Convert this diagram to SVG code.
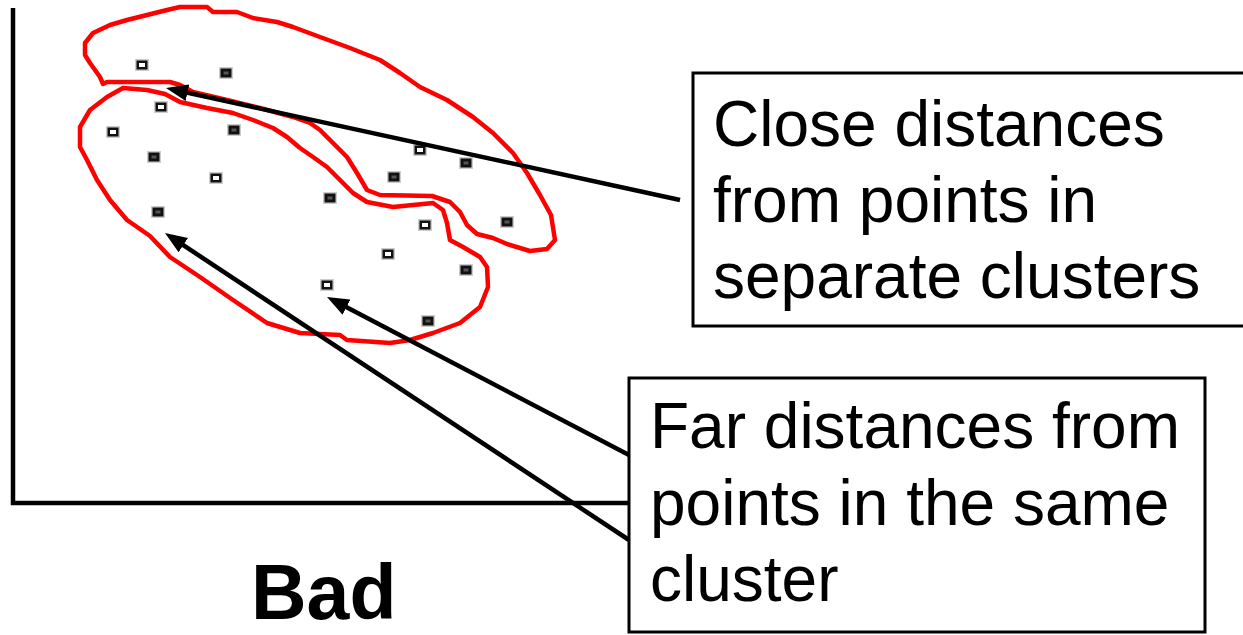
<svg xmlns="http://www.w3.org/2000/svg" width="1243" height="635" viewBox="0 0 1243 635">
<style>
.axis{stroke:#000;stroke-width:4.5;fill:none}
.blob{fill:none;stroke:#ff0000;stroke-width:4.5;stroke-linejoin:round}
.box{fill:#fff;stroke:#000;stroke-width:3}
.lbl{font-family:"Liberation Sans",Arial,sans-serif;font-size:64px;fill:#000}
.title{font-family:"Liberation Sans",Arial,sans-serif;font-size:77px;font-weight:bold;fill:#000}
.conn{stroke:#000;stroke-width:4.5;fill:none}
</style>
<defs>
<marker id="ah" markerUnits="userSpaceOnUse" markerWidth="24" markerHeight="18" refX="9" refY="8.5" orient="auto">
<path d="M0,0 L22,8.5 L0,17 Z" fill="#000"/>
</marker>
<g id="pf"><rect x="-7" y="-6" width="14" height="12" fill="#ccc"/><rect x="-5.5" y="-4.5" width="11" height="9" fill="#111"/><rect x="-2.5" y="-1.5" width="5" height="3" fill="#555"/></g>
<g id="ph"><rect x="-7" y="-6" width="14" height="12" fill="#ccc"/><rect x="-5.5" y="-4.5" width="11" height="9" fill="#111"/><rect x="-3" y="-2" width="6" height="4" fill="#fff"/></g>
</defs>
<rect width="1243" height="635" fill="#fff"/>
<g id="axes">
<path class="axis" d="M13,8 L13,503 L629,503"/>
</g>
<g id="cluster-upper">
<path class="blob" d="M103,84 L100,77 L90,63 L85,55 L85,43 L93,33 L110,25 L127,20 L147,15 L167,10 L180,7 L207,7 L213,12 L237,12 L253,18 L277,22 L293,27 L320,37 L350,48 L380,60 L400,73 L420,87 L447,100 L473,117 L493,133 L513,153 L527,173 L540,195 L551,215 L555,240 L547,249 L530,251 L507,244 L493,238 L477,234 L467,225 L460,212 L450,202 L432,196 L380,195 L367,190 L357,173 L347,157 L333,143 L320,130 L310,123 L293,117 L260,108 L227,100 L193,92 L180,85 L170,82 L107,82 Z"/>
</g>
<g id="cluster-lower">
<path class="blob" d="M80,127 L90,110 L107,97 L123,88 L147,90 L165,94 L180,102 L207,108 L233,113 L253,120 L273,128 L287,137 L300,148 L313,157 L327,167 L340,180 L353,193 L367,202 L393,207 L433,203 L443,210 L447,223 L450,240 L463,247 L480,257 L487,267 L488,287 L480,307 L460,323 L433,333 L410,340 L390,343 L347,340 L340,335 L300,333 L267,323 L233,300 L200,277 L170,257 L150,236 L127,220 L110,200 L97,180 L87,160 L80,147 Z"/>
</g>
<g id="points">
<use href="#ph" x="142" y="65"/>
<use href="#pf" x="226" y="73"/>
<use href="#ph" x="161" y="107"/>
<use href="#ph" x="113" y="132"/>
<use href="#pf" x="234" y="130"/>
<use href="#pf" x="154" y="157"/>
<use href="#ph" x="216" y="178"/>
<use href="#pf" x="158" y="212"/>
<use href="#ph" x="420" y="150"/>
<use href="#pf" x="466" y="163"/>
<use href="#pf" x="394" y="177"/>
<use href="#pf" x="330" y="198"/>
<use href="#ph" x="425" y="225"/>
<use href="#pf" x="507" y="222"/>
<use href="#ph" x="388" y="254"/>
<use href="#pf" x="466" y="270"/>
<use href="#ph" x="327" y="285"/>
<use href="#pf" x="428" y="321"/>
</g>
<g id="connectors">
<line class="conn" x1="680" y1="200" x2="178.7" y2="90.8" marker-end="url(#ah)"/>
<line class="conn" x1="629" y1="455" x2="338.5" y2="303" marker-end="url(#ah)"/>
<line class="conn" x1="629" y1="540" x2="175.8" y2="240.2" marker-end="url(#ah)"/>
</g>
<g id="box-close">
<rect class="box" x="693" y="73" width="560" height="253"/>
<text class="lbl" x="713" y="146">Close distances</text>
<text class="lbl" x="713" y="222">from points in</text>
<text class="lbl" x="713" y="298">separate clusters</text>
</g>
<g id="box-far">
<rect class="box" x="629" y="378" width="576" height="254"/>
<text class="lbl" x="650" y="448">Far distances from</text>
<text class="lbl" x="650" y="525">points in the same</text>
<text class="lbl" x="650" y="601">cluster</text>
</g>
<g id="title">
<text class="title" x="251" y="619">Bad</text>
</g>
</svg>
